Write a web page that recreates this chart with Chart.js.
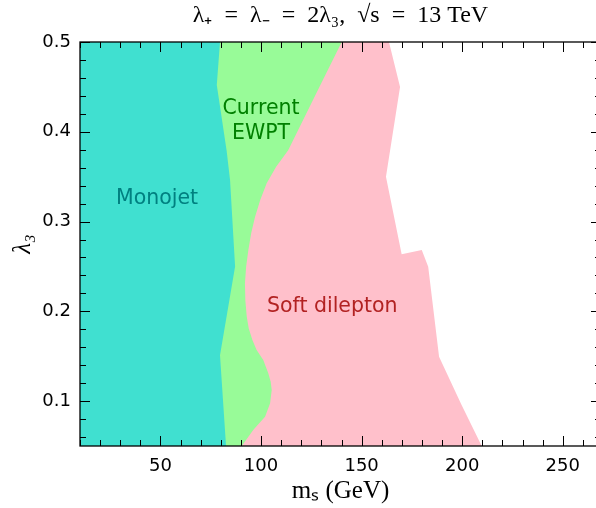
<!DOCTYPE html>
<html><head><meta charset="utf-8">
<script src="https://cdn.jsdelivr.net/npm/chart.js@4/dist/chart.umd.min.js"></script>
<style>html,body{margin:0;padding:0;overflow:hidden;background:#fff;} canvas{display:block;}</style>
</head><body>
<canvas id="c" width="601" height="508"></canvas>
<script>
// Region boundaries: mS (GeV) and lambda_3
const monojetMass   = [10, 10, 79.6, 78.0, 82.9, 84.6, 87.1, 79.6, 82.6];
const monojetLambda = [0.05, 0.5, 0.5, 0.452, 0.379, 0.346, 0.250, 0.151, 0.05];

const ewptMass   = [10, 10, 141, 120];
const ewptLambda = [0.05, 0.5, 0.5, 0.05];

const dileptonMass   = [163.6, 169.1, 162.1, 169.9, 179.9, 183.1, 188.5, 199.7, 209.7,
                        90.4, 93.0, 96.1, 99.2, 102.0, 104.5, 105.3, 104.8, 103.6, 101.1, 97.8, 95.7, 93.9, 92.9, 92.2, 92.0, 92.6, 93.7, 95.1, 97.0, 99.6, 102.8, 107.5, 113.5, 126.8, 140.1];
const dileptonLambda = [0.5, 0.45, 0.35, 0.2637, 0.2682, 0.2496, 0.1494, 0.0956, 0.05,
                        0.05, 0.058, 0.0678, 0.0755, 0.0826, 0.0975, 0.1123, 0.1215, 0.1309, 0.1457, 0.1568, 0.168, 0.181, 0.194, 0.212, 0.2314, 0.250, 0.2683, 0.287, 0.3052, 0.324, 0.3427, 0.361, 0.3795, 0.4398, 0.5];

const xTickValues = [50, 100, 150, 200, 250];
const xTickLabels = ['50', '100', '150', '200', '250'];
const yTickValues = [0.1, 0.2, 0.3, 0.4, 0.5];
const yTickLabels = ['0.1', '0.2', '0.3', '0.4', '0.5'];

const regionNames  = ['Monojet', 'Current', 'EWPT', 'Soft dilepton'];
const regionLabelX = [48.3, 100.0, 100.0, 135.4];
const regionLabelY = [0.320, 0.4203, 0.3925, 0.1995];
const regionLabelColors = ['#008080', '#008000', '#008000', '#B22222'];

const toPts = (xs, ys) => xs.map((x, i) => ({x: x, y: ys[i]}));

const framePlugin = {
  id: 'frame',
  afterDatasetsDraw(chart) {
    const {ctx, chartArea: {left, right, top, bottom}, scales: {x, y}} = chart;
    ctx.save();
    ctx.strokeStyle = '#000';
    ctx.lineWidth = 1;
    ctx.beginPath();
    for (let i = 1; i <= 26; i++) {
      const v = i * 10;
      const px = Math.round(x.getPixelForValue(v)) + 0.5;
      const len = (v % 50 === 0) ? 10 : 6;
      ctx.moveTo(px, bottom); ctx.lineTo(px, bottom - len);
      ctx.moveTo(px, top); ctx.lineTo(px, top + len);
    }
    for (let k = 3; k <= 25; k++) {
      const v = k * 0.02;
      const py = Math.round(y.getPixelForValue(v)) + 0.5;
      const len = (k % 5 === 0) ? 10 : 6;
      ctx.moveTo(left, py); ctx.lineTo(left + len, py);
      ctx.moveTo(right, py); ctx.lineTo(right - len, py);
    }
    ctx.stroke();
    ctx.lineWidth = 1.3;
    ctx.strokeRect(left, top, right - left, bottom - top);
    ctx.font = '20.5px "DejaVu Sans"';
    ctx.textAlign = 'center';
    ctx.textBaseline = 'alphabetic';
    regionNames.forEach((t, i) => {
      ctx.fillStyle = regionLabelColors[i];
      ctx.fillText(t, x.getPixelForValue(regionLabelX[i]), y.getPixelForValue(regionLabelY[i]));
    });
    ctx.restore();
  }
};

new Chart(document.getElementById('c'), {
  type: 'scatter',
  data: {
    datasets: [
      {label: 'Monojet', data: toPts(monojetMass, monojetLambda), showLine: true, fill: 'shape',
       backgroundColor: '#40E0D0', borderColor: '#40E0D0', borderWidth: 0, pointRadius: 0, order: 1},
      {label: 'Soft dilepton', data: toPts(dileptonMass, dileptonLambda), showLine: true, fill: 'shape',
       backgroundColor: '#FFC0CB', borderColor: '#FFC0CB', borderWidth: 0, pointRadius: 0, order: 2},
      {label: 'Current EWPT', data: toPts(ewptMass, ewptLambda), showLine: true, fill: 'shape',
       backgroundColor: '#98FB98', borderColor: '#98FB98', borderWidth: 0, pointRadius: 0, order: 3}
    ]
  },
  options: {
    responsive: false,
    animation: false,
    devicePixelRatio: 1,
    layout: {padding: 0},
    plugins: {
      legend: {display: false},
      tooltip: {enabled: false},
      title: {
        display: true, fullSize: false,
        text: 'λ₊\u2002=\u2002λ₋\u2002=\u20022λ₃,  √s\u2002=\u200213 TeV',
        color: '#000',
        font: {family: '"Liberation Serif"', size: 24, weight: 'normal', lineHeight: 1.2},
        padding: {top: 1, bottom: 12.2}
      }
    },
    scales: {
      x: {
        type: 'linear', min: 10, max: 269,
        grid: {display: false, drawTicks: false},
        border: {display: false},
        afterBuildTicks: s => { s.ticks = xTickValues.map(v => ({value: v})); },
        afterFit: s => { s.height = 62; },
        ticks: {
          autoSkip: false, maxRotation: 0, padding: 10, color: '#000',
          font: {family: '"DejaVu Sans"', size: 18},
          callback: v => xTickLabels[xTickValues.indexOf(v)]
        },
        title: {display: true, text: 'mₛ (GeV)', color: '#000',
          font: {family: '"Liberation Serif"', size: 25, lineHeight: 1.2}, padding: {top: 0, bottom: 2}}
      },
      y: {
        type: 'linear', min: 0.05, max: 0.5,
        grid: {display: false, drawTicks: false},
        border: {display: false},
        afterBuildTicks: s => { s.ticks = yTickValues.map(v => ({value: v})); },
        afterFit: s => { s.width = 80; },
        ticks: {
          autoSkip: false, padding: 9, color: '#000',
          font: {family: '"DejaVu Sans"', size: 18},
          callback: v => yTickLabels[yTickValues.findIndex(t => Math.abs(t - v) < 1e-9)]
        },
        title: {display: true, text: 'λ₃', color: '#000',
          font: {family: '"Liberation Serif"', size: 25, style: 'italic', lineHeight: 1.2}, padding: {top: 8, bottom: 0}}
      }
    }
  },
  plugins: [framePlugin]
});
</script>
</body></html>
